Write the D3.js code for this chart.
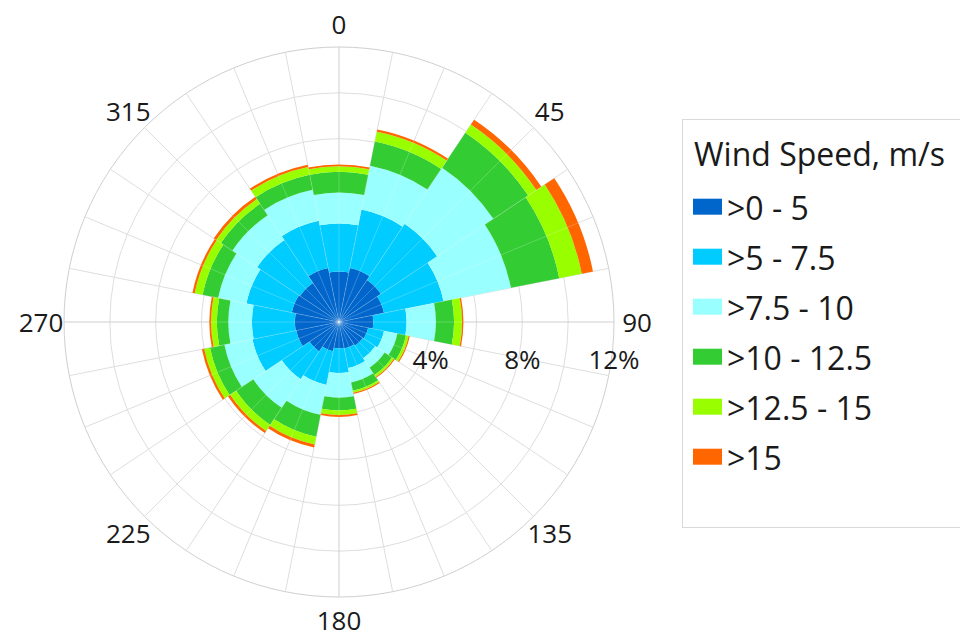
<!DOCTYPE html>
<html>
<head>
<meta charset="utf-8">
<script src="https://cdn.jsdelivr.net/npm/d3@7"></script>
<style>
  html, body { margin: 0; padding: 0; background: #fff; }
  svg { display: block; font-family: "Open Sans", "Noto Sans", sans-serif; }
</style>
</head>
<body>
<svg id="chart" width="960" height="640"></svg>
<script>
// Wind direction sectors (degrees, clockwise from north)
const directions = [0, 22.5, 45, 67.5, 90, 112.5, 135, 157.5, 180, 202.5, 225, 247.5, 270, 292.5, 315, 337.5];

// Frequency (%) of each wind-speed class per direction
const speed0to5     = [2.20, 2.40, 2.20, 2.00, 1.50, 1.30, 1.25, 1.18, 1.15, 1.30, 1.55, 1.90, 1.93, 2.10, 2.05, 2.40];
const speed5to7_5   = [2.10, 2.60, 2.95, 2.65, 1.45, 0.70, 0.65, 0.87, 1.07, 1.50, 1.45, 1.95, 1.87, 2.02, 2.25, 2.10];
const speed7_5to10  = [1.35, 1.95, 2.95, 3.00, 1.28, 0.60, 0.50, 0.64, 1.08, 1.33, 1.50, 1.25, 1.03, 1.26, 1.30, 1.38];
const speed10to12_5 = [0.90, 1.08, 1.83, 2.15, 0.79, 0.38, 0.38, 0.37, 0.56, 0.97, 0.90, 0.64, 0.50, 0.69, 0.60, 0.67];
const speed12_5to15 = [0.25, 0.44, 0.43, 1.00, 0.35, 0.12, 0.10, 0.09, 0.20, 0.35, 0.32, 0.26, 0.25, 0.35, 0.25, 0.35];
const speedOver15   = [0.07, 0.10, 0.26, 0.50, 0.06, 0.05, 0.05, 0.05, 0.08, 0.13, 0.11, 0.10, 0.08, 0.10, 0.12, 0.10];

const speedClasses = [">0 - 5", ">5 - 7.5", ">7.5 - 10", ">10 - 12.5", ">12.5 - 15", ">15"];
const classColors  = ["#0066cc", "#00ccff", "#99ffff", "#33cc33", "#99ff00", "#ff6600"];

// Axis ticks
const radialGrid   = [2, 4, 6, 8, 10, 12];
const radialLabels = [4, 8, 12];
const angleLabels  = [0, 45, 90, 135, 180, 225, 270, 315];
const spokeStep    = 11.25;

const seriesValues = [speed0to5, speed5to7_5, speed7_5to10, speed10to12_5, speed12_5to15, speedOver15];

// Rows for d3.stack: one object per direction
const rows = directions.map((dir, i) => {
  const row = { dir };
  speedClasses.forEach((k, j) => { row[k] = seriesValues[j][i]; });
  return row;
});

const svg = d3.select("#chart");
const cx = 339, cy = 322, outerR = 275;

const r = d3.scaleLinear().domain([0, 12]).range([0, outerR]);
const ang = d3.scaleLinear().domain([0, 360]).range([0, 2 * Math.PI]);
const halfWidth = 360 / directions.length / 2;

const g = svg.append("g").attr("transform", `translate(${cx},${cy})`);

// Grid: concentric circles and spokes
const grid = g.append("g");
grid.selectAll("circle")
  .data(radialGrid)
  .join("circle")
  .attr("r", d => r(d))
  .attr("fill", "none")
  .attr("stroke", d => d === 12 ? "#cfcfcf" : "#dedede")
  .attr("stroke-width", 1);

const spokes = d3.range(0, 360, spokeStep);
grid.selectAll("line")
  .data(spokes)
  .join("line")
  .attr("x1", 0).attr("y1", 0)
  .attr("x2", d => Math.sin(ang(d)) * r(12))
  .attr("y2", d => -Math.cos(ang(d)) * r(12))
  .attr("stroke", d => d % 90 === 0 ? "#cfcfcf" : "#dedede")
  .attr("stroke-width", 1);

// Stacked sectors
const stack = d3.stack().keys(speedClasses);
const layers = stack(rows);
const totals = layers[layers.length - 1].map(d => d[1]);

const arc = d3.arc()
  .innerRadius(d => r(d[0]))
  .outerRadius(d => r(d[1]))
  .startAngle(d => ang(d.data.dir - halfWidth))
  .endAngle(d => ang(d.data.dir + halfWidth));

g.append("g")
  .selectAll("g")
  .data(layers)
  .join("g")
  .attr("fill", (d, i) => classColors[i])
  .selectAll("path")
  .data(d => d)
  .join("path")
  .attr("d", arc);

// Faint spokes drawn across the sectors, each clipped to the taller neighbouring sector
function spokeReach(deg) {
  const n = directions.length;
  const pos = deg / (360 / n);
  if (Number.isInteger(pos)) return totals[pos % n];
  const a = Math.floor(pos) % n, b = Math.ceil(pos) % n;
  return Math.min(totals[a], totals[b]);
}
g.append("g")
  .selectAll("line")
  .data(spokes)
  .join("line")
  .attr("x1", 0).attr("y1", 0)
  .attr("x2", d => Math.sin(ang(d)) * r(spokeReach(d)))
  .attr("y2", d => -Math.cos(ang(d)) * r(spokeReach(d)))
  .attr("stroke", "#ffffff")
  .attr("stroke-opacity", 0.28)
  .attr("stroke-width", 0.8);

// Direction labels
g.append("g")
  .selectAll("text")
  .data(angleLabels)
  .join("text")
  .attr("x", d => Math.sin(ang(d)) * 298)
  .attr("y", d => -Math.cos(ang(d)) * 298)
  .attr("text-anchor", "middle")
  .attr("dominant-baseline", "central")
  .attr("font-size", 26)
  .attr("fill", "#1a1a1a")
  .text(d => d);

// Radial labels
g.append("g")
  .selectAll("text")
  .data(radialLabels)
  .join("text")
  .attr("x", d => r(d))
  .attr("y", 37)
  .attr("text-anchor", "middle")
  .attr("dominant-baseline", "central")
  .attr("font-size", 26)
  .attr("fill", "#1a1a1a")
  .text(d => d + "%");

// Legend
const legend = svg.append("g");
legend.append("rect")
  .attr("x", 682.5).attr("y", 119.5)
  .attr("width", 290).attr("height", 408)
  .attr("fill", "#fff")
  .attr("stroke", "#d9d9d9");

legend.append("text")
  .attr("x", 694).attr("y", 166)
  .attr("font-size", 32)
  .attr("fill", "#1a1a1a")
  .text("Wind Speed, m/s");

const items = legend.selectAll("g.item")
  .data(speedClasses)
  .join("g")
  .attr("class", "item")
  .attr("transform", (d, i) => `translate(0,${206.7 + i * 50})`);

items.append("rect")
  .attr("x", 693).attr("y", -8)
  .attr("width", 29).attr("height", 16)
  .attr("fill", (d, i) => classColors[i]);

items.append("text")
  .attr("x", 727).attr("y", 1)
  .attr("dominant-baseline", "central")
  .attr("font-size", 32)
  .attr("fill", "#1a1a1a")
  .text(d => d);
</script>
</body>
</html>
